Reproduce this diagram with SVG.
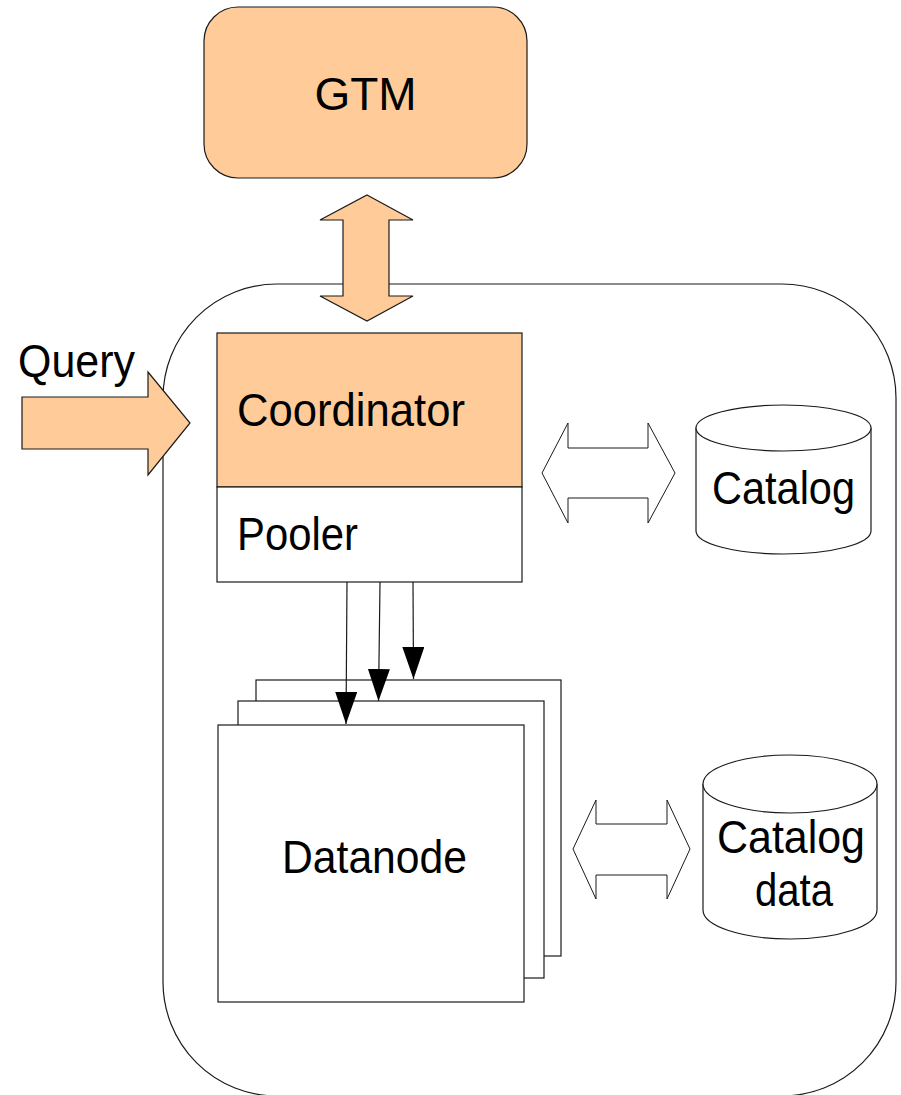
<svg xmlns="http://www.w3.org/2000/svg" width="901" height="1095" viewBox="0 0 901 1095">
  <defs>
    <style>
      .lbl { font-family: "Liberation Sans", Arial, sans-serif; font-size: 46px; fill: #000; }
      .peach { fill: #ffcc99; stroke: #1a1a1a; stroke-width: 1.2; }
      .plain { fill: #fff; stroke: #1a1a1a; stroke-width: 1.2; }
      .outline { fill: #fff; stroke: #1a1a1a; stroke-width: 1; }
      .wire { fill: none; stroke: #1a1a1a; stroke-width: 1.2; }
    </style>
    <marker id="tri" viewBox="0 0 32 22" refX="32" refY="11" markerWidth="32" markerHeight="22" markerUnits="userSpaceOnUse" orient="auto">
      <path d="M0,0 L32,11 L0,22 Z" fill="#000"/>
    </marker>
  </defs>

  <rect x="0" y="0" width="901" height="1095" fill="#fff"/>

  <!-- cluster boundary -->
  <g id="cluster">
    <rect x="163" y="284" width="733" height="812" rx="114" ry="114" fill="none" stroke="#1a1a1a" stroke-width="1.2"/>
  </g>

  <!-- global transaction manager -->
  <g id="gtm">
    <rect class="peach" x="204" y="7" width="323" height="171" rx="34" ry="34"/>
    <text class="lbl" x="365.5" y="110" text-anchor="middle">GTM</text>
  </g>

  <!-- coordinator with its pooler section -->
  <g id="coordinator">
    <rect class="peach" x="217" y="333" width="305" height="154"/>
    <text class="lbl" x="237" y="426" textLength="228" lengthAdjust="spacingAndGlyphs">Coordinator</text>
  </g>
  <g id="pooler">
    <rect class="plain" x="217" y="487" width="305" height="95"/>
    <text class="lbl" x="237" y="550" textLength="121" lengthAdjust="spacingAndGlyphs">Pooler</text>
  </g>

  <!-- stacked datanodes -->
  <g id="datanode">
    <rect class="plain" x="256" y="680" width="305" height="276"/>
    <rect class="plain" x="238" y="701" width="306" height="277"/>
    <rect class="plain" x="218" y="725" width="306" height="277"/>
    <text class="lbl" x="282" y="873" textLength="185" lengthAdjust="spacingAndGlyphs">Datanode</text>
  </g>

  <!-- catalog store -->
  <g id="catalog">
    <path class="plain" d="M696,428 L696,531 A87.5,23 0 0 0 871,531 L871,428"/>
    <ellipse class="plain" cx="783.5" cy="428" rx="87.5" ry="23"/>
    <text class="lbl" x="712" y="504" textLength="143" lengthAdjust="spacingAndGlyphs">Catalog</text>
  </g>

  <!-- catalog data store -->
  <g id="catalog-data">
    <path class="plain" d="M703,784 L703,910 A87,29 0 0 0 877,910 L877,784"/>
    <ellipse class="plain" cx="790" cy="784" rx="87" ry="29"/>
    <text class="lbl" x="717" y="853" textLength="148" lengthAdjust="spacingAndGlyphs">Catalog</text>
    <text class="lbl" x="755" y="906" textLength="78" lengthAdjust="spacingAndGlyphs">data</text>
  </g>

  <!-- query input label -->
  <g id="query">
    <text class="lbl" x="18" y="377" textLength="117" lengthAdjust="spacingAndGlyphs">Query</text>
  </g>

  <g id="connectors">
    <!-- GTM <-> coordinator -->
    <path class="peach" d="M367,195 L413,220 L389,220 L389,296 L413,296 L367,321 L320,296 L343,296 L343,220 L320,220 Z"/>
    <!-- query into coordinator -->
    <path class="peach" d="M22,397 L148,397 L148,372 L190,423 L148,475 L148,449 L22,449 Z"/>
    <!-- coordinator <-> catalog -->
    <path class="outline" d="M542,473 L568,423 L568,448 L648,448 L648,423 L675,473 L648,523 L648,498 L568,498 L568,523 Z"/>
    <!-- datanode <-> catalog data -->
    <path class="outline" d="M573,849 L596,800 L596,824 L667,824 L667,800 L690,849 L667,899 L667,875 L596,875 L596,899 Z"/>
    <!-- pooler connections to datanodes -->
    <line class="wire" x1="347" y1="582" x2="346" y2="724" marker-end="url(#tri)"/>
    <line class="wire" x1="380" y1="582" x2="378.5" y2="701" marker-end="url(#tri)"/>
    <line class="wire" x1="413" y1="582" x2="413.5" y2="679" marker-end="url(#tri)"/>
  </g>
</svg>
